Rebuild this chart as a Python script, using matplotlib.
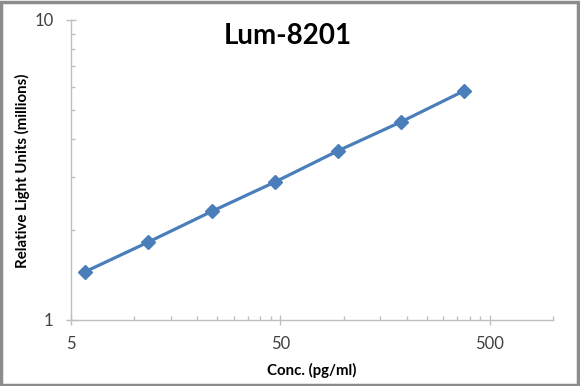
import numpy as np
import matplotlib
matplotlib.use('Agg')
import matplotlib.pyplot as plt
from matplotlib.ticker import FixedLocator, NullFormatter, FixedFormatter
from matplotlib.patches import Rectangle

# standard curve values
conc = [5.86, 11.72, 23.44, 46.88, 93.75, 187.5, 375]
rlu = [1.45, 1.82, 2.30, 2.88, 3.66, 4.57, 5.80]

x_ticks = [5, 50, 500]
x_tick_labels = ['5', '50', '500']
y_ticks = [1, 10]
y_tick_labels = ['1', '10']

plt.rcParams['font.family'] = ['Lato', 'DejaVu Sans']

fig = plt.figure(figsize=(5.8, 3.86), dpi=100)
ax = fig.add_axes([71/580, 1 - 320/386, (553 - 71)/580, 300/386])

ax.plot(conc, rlu, color='#4a7ebb', lw=2.3, marker='D', markersize=7.5,
        markeredgecolor='#4a7ebb', markerfacecolor='#4a7ebb')

ax.set_xscale('log')
ax.set_yscale('log')
ax.set_xlim(5, 1000)
ax.set_ylim(1, 10)

# major/minor ticks like an Excel log axis
ax.xaxis.set_major_locator(FixedLocator(x_ticks))
ax.xaxis.set_major_formatter(FixedFormatter(x_tick_labels))
x_minor = sorted(set([5 * k * 10**d for d in range(0, 3) for k in range(2, 10)
                      if 5 * k * 10**d <= 1000]))
ax.xaxis.set_minor_locator(FixedLocator(x_minor))
ax.xaxis.set_minor_formatter(NullFormatter())

ax.yaxis.set_major_locator(FixedLocator(y_ticks))
ax.yaxis.set_major_formatter(FixedFormatter(y_tick_labels))
ax.yaxis.set_minor_locator(FixedLocator([k for k in range(2, 10)]))
ax.yaxis.set_minor_formatter(NullFormatter())

grey = '#bfbfbf'
for s in ['top', 'right']:
    ax.spines[s].set_visible(False)
for s in ['left', 'bottom']:
    ax.spines[s].set_color(grey)
    ax.spines[s].set_linewidth(1.0)

ax.tick_params(which='major', direction='inout', length=7, width=1,
               color=grey, labelsize=12, labelcolor='#404040')
ax.tick_params(axis='x', which='major', pad=8)
ax.tick_params(axis='y', which='major', pad=9)
ax.tick_params(which='minor', direction='in', length=3, width=1, color=grey)

# axis titles placed where the reference has them
fig.text(312/580, 1 - 370/386, 'Conc. (pg/ml)', fontsize=10.8,
         fontweight='bold', ha='center', va='center')
fig.text(22/580, 1 - 171/386, 'Relative Light Units (millions)', fontsize=10.8,
         fontweight='bold', rotation=90, ha='center', va='center')

fig.text(288/580, 1 - 36/386, 'Lum-8201', fontsize=20, fontweight='bold',
         ha='center', va='center')

# outer frame of the picture
fig.patches.append(Rectangle((0.002, 0.003), 0.994, 0.993, transform=fig.transFigure,
                             fill=False, edgecolor='#8c8c8c', linewidth=2.5))

fig.savefig('out.png', dpi=100)
